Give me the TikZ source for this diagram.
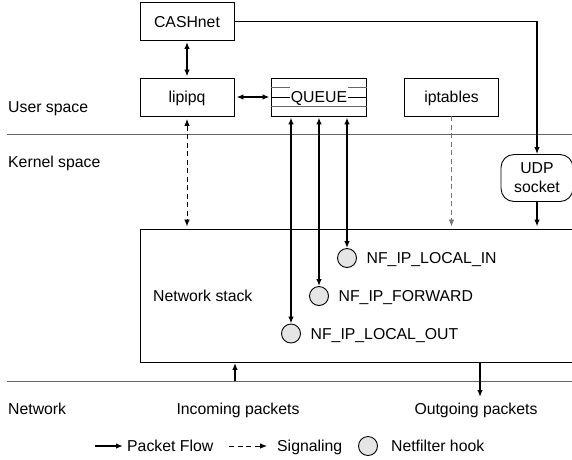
\documentclass[tikz,border=0pt]{standalone}
\usepackage{fontspec}
\setmainfont{Liberation Sans}
\usetikzlibrary{arrows.meta}
\begin{document}
\begin{tikzpicture}[x=1pt,y=-1pt,
  txt/.style={font=\fontsize{15.8}{19}\selectfont, text height=11.3pt, text depth=0pt},
  box/.style={txt, draw, line width=0.9pt, minimum width=94pt, minimum height=38pt, inner sep=0pt},
  flow/.style={line width=1.5pt, -{Latex[length=7pt,width=5.5pt]}},
  flowboth/.style={line width=1.5pt, {Latex[length=7pt,width=5.5pt]}-{Latex[length=7pt,width=5.5pt]}},
  sig/.style={line width=0.9pt, dash pattern=on 5pt off 3.5pt, -{Latex[length=7pt,width=5.5pt]}},
  sigboth/.style={line width=0.9pt, dash pattern=on 5pt off 3.5pt, {Latex[length=7pt,width=5.5pt]}-{Latex[length=7pt,width=5.5pt]}},
  hook/.style={circle, draw, line width=0.9pt, fill=black!10, minimum size=19pt, inner sep=0pt},
  sep/.style={draw=black!60, line width=1pt},
  lbl/.style={txt, anchor=west, inner sep=0pt}
]
\useasboundingbox (0,0) rectangle (572,459);
\clip (0,0) rectangle (572,459);

% separators
\draw[sep] (7,134) -- (580,134);
\draw[sep] (7,381) -- (580,381);

% region labels
\node[lbl] (us) at (8,107) {User space};
\node[lbl] (ks) at (8,162) {Kernel space};
\node[lbl] (nw) at (8,409) {Network};

% user space boxes
\node[box] (cash) at (187,21.5) {CASHnet};
\node[box] (lip) at (187,97) {lipipq};
\node[box, minimum width=95pt] (queue) at (319,97) {};
\node[txt, inner sep=0.5pt] (qtext) at (queue.center) {QUEUE};
\draw[line width=0.7pt, black!60] ([yshift=10pt]queue.west) -- ([yshift=10pt]qtext.west);
\draw[line width=0.7pt, black!60] ([yshift=10pt]qtext.east) -- ([yshift=10pt]queue.east);
\draw[line width=0.8pt] (queue.west) -- (qtext.west);
\draw[line width=0.8pt] (qtext.east) -- (queue.east);
\draw[line width=0.7pt, black!60] ([yshift=-9.7pt]queue.west) -- ([yshift=-9.7pt]queue.east);
\node[box] (ipt) at (451.5,97) {iptables};

% kernel
\node[txt, draw, rounded corners=13pt, line width=0.9pt, minimum width=72pt, minimum height=47pt, align=center, inner sep=0pt, text height=, text depth=] (udp) at (537,178) {UDP\\socket};
\node[draw, line width=0.9pt, minimum width=460pt, minimum height=133pt, anchor=north west, inner sep=0pt] (stack) at (140,229) {};
\node[lbl] (ns) at (153,296) {Network stack};

\node[hook] (h1) at (347,258) {};
\node[lbl] (h1l) at ([xshift=9.5pt]h1.east) {NF\_IP\_LOCAL\_IN};
\node[hook] (h2) at (319,296) {};
\node[lbl] (h2l) at ([xshift=9.5pt]h2.east) {NF\_IP\_FORWARD};
\node[hook] (h3) at (291,333.5) {};
\node[lbl] (h3l) at ([xshift=9.5pt]h3.east) {NF\_IP\_LOCAL\_OUT};

% connectors
\draw[flowboth, shorten <=1pt, shorten >=1pt] (cash) -- (lip);
\draw[flowboth, shorten <=2pt, shorten >=1.5pt] (lip) -- (queue);
\draw[flowboth, shorten <=1pt] (queue.south -| h1) -- (h1.north);
\draw[flowboth, shorten <=1pt] (queue.south -| h2) -- (h2.north);
\draw[flowboth, shorten <=1pt] (queue.south -| h3) -- (h3.north);
\draw[sigboth, shorten <=2.5pt, shorten >=2.5pt] (lip) -- (lip |- stack.north);
\draw[sig, draw=black!55, shorten <=0pt, shorten >=2.5pt] (ipt) -- (ipt |- stack.north);
\draw[flow, line width=1.3pt] (cash.east) -| (udp.north);
\draw[flow, shorten >=2.5pt] (udp) -- (udp |- stack.north);

% network
\node[txt] (inc) at (238,409) {Incoming packets};
\node[txt] (out) at (476,409) {Outgoing packets};
\coordinate (incfoot) at (235,381);
\coordinate (outfoot) at (480,397);
\draw[flow] (incfoot) -- (incfoot |- stack.south);
\draw[flow] (outfoot |- stack.south) -- (outfoot);

% legend
\coordinate (la) at (95,446);
\coordinate (lb) at (123,446);
\draw[flow] (la) -- (lb);
\node[lbl] (lpf) at (127,446) {Packet Flow};
\coordinate (lc) at (229,446);
\coordinate (ld) at (267,446);
\draw[sig] (lc) -- (ld);
\node[lbl] (lsg) at (277,446) {Signaling};
\node[hook] (lh) at (368,446) {};
\node[lbl] (lnh) at ([xshift=13pt]lh.east) {Netfilter hook};
\end{tikzpicture}
\end{document}
